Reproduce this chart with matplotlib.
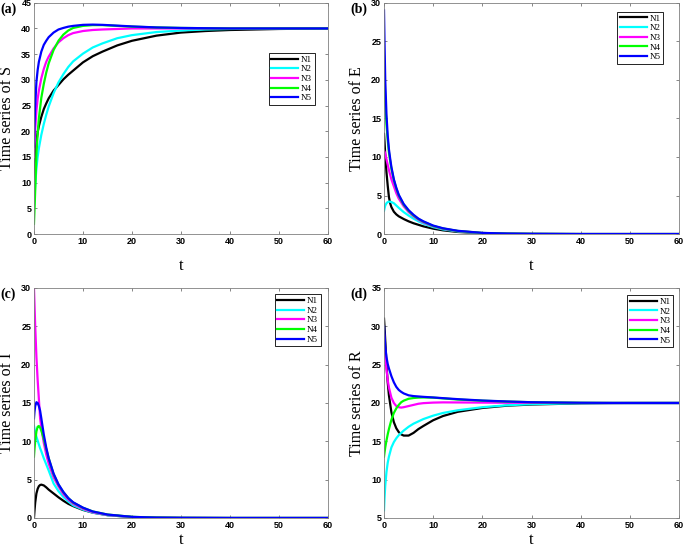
import matplotlib
matplotlib.use('Agg')
import matplotlib.pyplot as plt

# ---- data ----
names = ['N1', 'N2', 'N3', 'N4', 'N5']
colors = ['black', 'cyan', 'magenta', '#00ff00', 'blue']

# (a) S
t_a = [0, 0.1, 0.25, 0.5, 0.75, 1, 1.5, 2, 2.5, 3, 4, 5, 6, 7, 8, 10, 12, 14, 17, 20, 25, 30, 35, 40, 50, 60]
S_n1 = [9, 11.5, 14.5, 18, 19.8, 21, 22.8, 24.3, 25.4, 26.4, 27.9, 29.0, 30.1, 31.0, 31.8, 33.4, 34.6, 35.5, 36.7, 37.6, 38.6, 39.2, 39.5, 39.7, 39.9, 40]
S_n2 = [5, 7, 9.5, 12.8, 15, 16.7, 19.3, 21.4, 23.2, 24.8, 27.4, 29.5, 31.1, 32.5, 33.6, 35.1, 36.3, 37.1, 38.1, 38.7, 39.3, 39.6, 39.8, 39.9, 40, 40]
S_n3 = [15, 17.5, 20.5, 24, 26.3, 27.9, 30.3, 32.1, 33.5, 34.5, 36.1, 37.3, 38.1, 38.7, 39.1, 39.5, 39.7, 39.8, 39.9, 40, 40, 40, 40, 40, 40, 40]
S_n4 = [2, 4.5, 8.5, 15.5, 19.5, 22.5, 26.5, 29.2, 31.4, 33.2, 35.8, 37.6, 38.8, 39.6, 40.1, 40.5, 40.65, 40.65, 40.5, 40.35, 40.2, 40.1, 40.05, 40, 40, 40]
S_n5 = [17, 21, 25, 29.6, 31.9, 33.5, 35.5, 36.8, 37.6, 38.3, 39.2, 39.8, 40.1, 40.35, 40.5, 40.7, 40.75, 40.7, 40.55, 40.4, 40.2, 40.1, 40.05, 40, 40, 40]

# (b) E
t_b = [0, 0.1, 0.25, 0.5, 0.75, 1, 1.25, 1.5, 2, 2.5, 3, 4, 5, 6, 7, 8, 10, 12, 15, 20, 25, 30, 40, 50, 60]
E_n1 = [13, 12, 10.3, 8, 6.3, 4.8, 4.0, 3.5, 2.9, 2.55, 2.3, 1.95, 1.65, 1.4, 1.2, 1.0, 0.7, 0.48, 0.27, 0.1, 0.04, 0.02, 0, 0, 0]
E_n2 = [3, 3.3, 3.7, 4.0, 4.15, 4.2, 4.2, 4.15, 4.0, 3.7, 3.4, 2.85, 2.4, 2.0, 1.65, 1.35, 0.9, 0.6, 0.34, 0.12, 0.05, 0.02, 0, 0, 0]
E_n3 = [10.8, 10.7, 10.4, 9.7, 9.0, 8.3, 7.7, 7.1, 6.2, 5.3, 4.6, 3.6, 2.85, 2.3, 1.85, 1.5, 1.0, 0.68, 0.38, 0.13, 0.05, 0.02, 0, 0, 0]
E_n4 = [23, 20.5, 17.3, 14.2, 12.2, 10.6, 9.5, 8.5, 7.0, 5.9, 5.0, 3.8, 3.0, 2.4, 1.95, 1.6, 1.05, 0.72, 0.4, 0.14, 0.05, 0.02, 0, 0, 0]
E_n5 = [29, 25, 20, 15.5, 12.8, 11.0, 9.8, 8.7, 7.1, 6.0, 5.1, 3.9, 3.1, 2.5, 2.0, 1.65, 1.1, 0.75, 0.42, 0.15, 0.06, 0.02, 0, 0, 0]

# (c) I
t_c = [0, 0.1, 0.25, 0.5, 0.75, 1, 1.25, 1.5, 2, 2.5, 3, 4, 5, 6, 7, 8, 10, 12, 15, 20, 25, 30, 40, 50, 60]
I_n1 = [0, 0.9, 2.0, 3.2, 3.8, 4.15, 4.3, 4.35, 4.25, 4.0, 3.7, 3.2, 2.7, 2.25, 1.85, 1.55, 1.05, 0.7, 0.37, 0.12, 0.04, 0.01, 0, 0, 0]
I_n2 = [12, 11.7, 11.2, 10.6, 10.1, 9.6, 9.1, 8.7, 7.8, 7.0, 6.2, 4.5, 3.5, 2.75, 2.15, 1.65, 1.1, 0.7, 0.37, 0.12, 0.04, 0.01, 0, 0, 0]
I_n3 = [30, 28, 25, 21, 18, 15.5, 13.0, 11.8, 9.8, 8.3, 7.1, 5.3, 4.1, 3.1, 2.4, 1.85, 1.2, 0.75, 0.4, 0.13, 0.05, 0.02, 0, 0, 0]
I_n4 = [8, 8.9, 10.0, 11.3, 11.9, 12.0, 11.8, 11.4, 10.3, 9.0, 7.8, 5.7, 4.35, 3.35, 2.6, 2.0, 1.33, 0.85, 0.45, 0.15, 0.05, 0.02, 0, 0, 0]
I_n5 = [13, 13.8, 14.6, 15.1, 15.0, 14.6, 14.0, 13.0, 10.9, 9.2, 7.8, 5.8, 4.4, 3.4, 2.6, 2.05, 1.35, 0.85, 0.45, 0.15, 0.05, 0.02, 0, 0, 0]

# (d) R
t_d = [0, 0.1, 0.25, 0.5, 0.75, 1, 1.5, 2, 2.5, 3, 3.5, 4, 5, 6, 7, 8, 10, 12, 15, 20, 25, 30, 40, 50, 60]
R_n1 = [31, 30, 28.2, 25, 22.7, 21, 18.8, 17.5, 16.7, 16.2, 15.9, 15.75, 15.75, 16.1, 16.6, 17.0, 17.75, 18.3, 18.85, 19.35, 19.65, 19.8, 19.95, 20, 20]
R_n2 = [6, 7.5, 9.2, 11, 12.2, 13, 14.2, 14.9, 15.4, 15.8, 16.1, 16.4, 16.9, 17.3, 17.6, 17.9, 18.35, 18.7, 19.05, 19.45, 19.7, 19.85, 19.97, 20, 20]
R_n3 = [29, 28, 26.6, 24.4, 23, 22, 20.7, 20, 19.6, 19.45, 19.4, 19.45, 19.6, 19.75, 19.9, 19.98, 20.05, 20.08, 20.07, 20.05, 20.03, 20.02, 20, 20, 20]
R_n4 = [13, 13.5, 14.2, 15.1, 15.9, 16.6, 17.8, 18.7, 19.3, 19.75, 20.1, 20.3, 20.55, 20.65, 20.7, 20.72, 20.7, 20.6, 20.45, 20.3, 20.18, 20.1, 20.03, 20, 20]
R_n5 = [30, 28.8, 27.4, 26, 25.1, 24.5, 23.5, 22.7, 22.1, 21.7, 21.45, 21.25, 21.0, 20.9, 20.85, 20.8, 20.72, 20.63, 20.5, 20.32, 20.2, 20.1, 20.03, 20, 20]

panels = [
    ('(a)', 'S', t_a, [S_n1, S_n2, S_n3, S_n4, S_n5], (0, 45), [0.0496, 0.576, 0.429, 0.419], (0.956, 0.784), -0.103),
    ('(b)', 'E', t_b, [E_n1, E_n2, E_n3, E_n4, E_n5], (0, 30), [0.5606, 0.576, 0.4307, 0.419], (0.946, 0.962), -0.103),
    ('(c)', 'I', t_c, [I_n1, I_n2, I_n3, I_n4, I_n5], (0, 30), [0.0496, 0.0616, 0.429, 0.4167], (0.976, 0.974), -0.063),
    ('(d)', 'R', t_d, [R_n1, R_n2, R_n3, R_n4, R_n5], (5, 35), [0.5606, 0.0616, 0.4307, 0.4167], (0.98, 0.97), -0.063),
]

serif = 'Liberation Serif'
sans = 'Liberation Sans'

fig = plt.figure(figsize=(6.85, 5.52), dpi=100)

for tag, var, t, series, ylim, pos, leg_xy, xlab_y in panels:
    ax = fig.add_axes(pos)
    for y, c, n in zip(series, colors, names):
        ax.plot(t, y, color=c, lw=1.6, label=n)
    ax.set_xlim(0, 60)
    ax.set_ylim(*ylim)
    ax.set_xticks(range(0, 61, 10))
    ax.set_yticks(range(ylim[0], ylim[1] + 1, 5))
    ax.tick_params(direction='in', top=True, right=True, length=2.5, width=0.6,
                   color='0.45', labelsize=6.5, pad=2)
    for lab in ax.get_xticklabels() + ax.get_yticklabels():
        lab.set_fontfamily(sans)
        lab.set_fontweight('bold')
    for sp in ax.spines.values():
        sp.set_color('0.5')
        sp.set_linewidth(0.6)
    ax.set_xlabel('t', fontfamily=serif, fontsize=12)
    ax.xaxis.set_label_coords(0.5, xlab_y)
    ax.set_ylabel('Time series of ' + var, fontfamily=serif, fontsize=11.5)
    ax.yaxis.set_label_coords(-0.066, 0.5)
    leg = ax.legend(loc='upper right', bbox_to_anchor=leg_xy, prop={'family': serif, 'size': 6.5},
                    fancybox=False, edgecolor='black', framealpha=1, borderpad=0.3,
                    labelspacing=0.15, handlelength=3.0, handletextpad=0.3, borderaxespad=0)
    leg.get_frame().set_linewidth(0.6)
    ax.text(-0.115, 1.0, tag, transform=ax.transAxes, fontfamily=serif, fontweight='bold',
            fontsize=10, ha='left', va='top')

fig.savefig('out.png', dpi=100)
